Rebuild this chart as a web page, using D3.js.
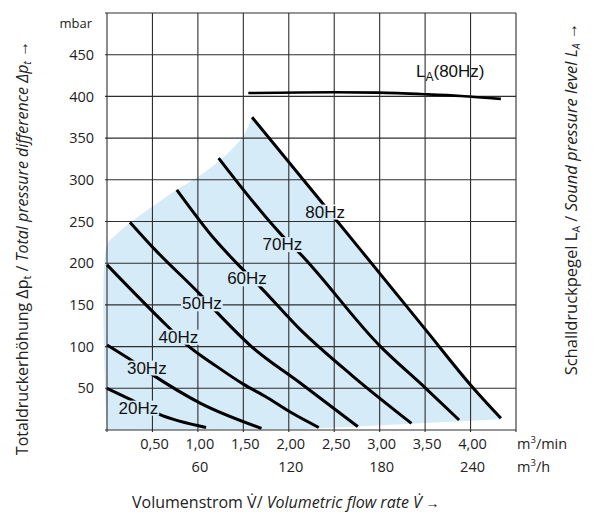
<!DOCTYPE html>
<html><head><meta charset="utf-8">
<script src="https://cdn.jsdelivr.net/npm/d3@7"></script>
<style>
html,body{margin:0;padding:0;background:#fff;}
svg{display:block;}
</style></head>
<body>
<svg id="c" width="600" height="524"></svg>
<script>
// ---- data ----
const xTicks = [0.5, 1, 1.5, 2, 2.5, 3, 3.5, 4];
const xTickLabels = ["0,50", "1,00", "1,50", "2,00", "2,50", "3,00", "3,50", "4,00"];
const hTicks = [60, 120, 180, 240];           // m³/h
const yTicks = [50, 100, 150, 200, 250, 300, 350, 400, 450];
const xGrid = [0, 0.5, 1, 1.5, 2, 2.5, 3, 3.5, 4, 4.5];
const yGrid = [0, 50, 100, 150, 200, 250, 300, 350, 400, 450, 500];

const curve20Hz = [[0, 50], [0.25, 37], [0.57, 19], [1.09, 3]];
const curve30Hz = [[0, 102], [0.235, 86], [0.49, 67], [1.03, 32], [1.7, 2]];
const curve40Hz = [[0, 198], [0.66, 125], [0.86, 104], [1.21, 76], [1.5, 55], [1.76, 39], [2.04, 20], [2.33, 3]];
const curve50Hz = [[0.254, 249], [0.53, 216], [1.03, 162], [1.21, 141], [1.58, 101], [2.13, 56], [2.76, 4]];
const curve60Hz = [[0.768, 288], [1.19, 228], [1.49, 193], [1.69, 171], [2.13, 120], [2.7, 65], [3.35, 8]];
const curve70Hz = [[1.228, 326], [1.92, 234], [2.12, 212], [3.01, 100], [3.507, 50], [3.874, 12]];
const curve80Hz = [[1.596, 375], [2.385, 270], [2.79, 216], [3.507, 120], [4.0, 54], [4.334, 14]];
const curveLA80 = [[1.555, 404], [2.49, 405], [2.975, 404.5], [3.507, 402.5], [3.893, 400.5], [4.334, 397]];

const curveNames = ["20Hz", "30Hz", "40Hz", "50Hz", "60Hz", "70Hz", "80Hz"];
const curveSeries = [curve20Hz, curve30Hz, curve40Hz, curve50Hz, curve60Hz, curve70Hz, curve80Hz];
const labelPos = [[0.345, 27], [0.438, 75], [0.786, 112], [1.044, 152], [1.54, 182], [1.93, 223], [2.40, 262]];

// operating region (blue)
const regionUpper = [[0, 0], [0, 222], [0.088, 233], [0.272, 250], [0.53, 270], [0.768, 288], [1.007, 304],
                     [1.228, 322], [1.375, 337], [1.503, 353], [1.596, 375]];
const regionLower = [[1.596, 375], [4.334, 13], [2.13, 1], [0, 0]];

// ---- drawing ----
const svg = d3.select("#c");
const x = d3.scaleLinear([0, 4.5], [107, 516]);
const y = d3.scaleLinear([0, 500], [430, 13]);

const defs = svg.append("defs");
const mask = defs.append("mask").attr("id", "lblmask")
  .attr("maskUnits", "userSpaceOnUse").attr("x", 0).attr("y", 0).attr("width", 600).attr("height", 524);
mask.append("rect").attr("x", 0).attr("y", 0).attr("width", 600).attr("height", 524).attr("fill", "#fff");

// region
const lineCR = d3.line().x(d => x(d[0])).y(d => y(d[1])).curve(d3.curveCatmullRom.alpha(0.5));
const lineLin = d3.line().x(d => x(d[0])).y(d => y(d[1]));
const upperPath = lineCR(regionUpper);
const lowerPath = lineLin(regionLower).replace(/^M/, "L");
svg.append("path").attr("d", upperPath + lowerPath + "Z").attr("fill", "#d5ebf8");

// grid
const grid = svg.append("g").attr("mask", "url(#lblmask)").attr("stroke", "#2e2e2e").attr("stroke-width", 1.1);
grid.selectAll(".vg").data(xGrid).join("line")
  .attr("x1", d => x(d)).attr("x2", d => x(d)).attr("y1", y(500)).attr("y2", y(0) + 2);
grid.selectAll(".hg").data(yGrid).join("line")
  .attr("y1", d => y(d)).attr("y2", d => y(d)).attr("x1", x(0) - 2).attr("x2", x(4.5));

// curves
const lineC = d3.line().x(d => x(d[0])).y(d => y(d[1])).curve(d3.curveMonotoneX);
const curveG = svg.append("g").attr("mask", "url(#lblmask)");
curveG.selectAll("path").data(curveSeries).join("path")
  .attr("d", d => lineC(d)).attr("fill", "none").attr("stroke", "#000").attr("stroke-width", 3)
  .attr("stroke-linecap", "butt");
svg.append("path").attr("d", lineC(curveLA80)).attr("fill", "none").attr("stroke", "#000")
  .attr("stroke-width", 2.6);

// curve labels
const lblG = svg.append("g").attr("font-family", "'Liberation Sans', Arial, sans-serif").attr("font-size", 17);
curveNames.forEach((n, i) => {
  const t = lblG.append("text").attr("x", x(labelPos[i][0])).attr("y", y(labelPos[i][1]))
    .attr("text-anchor", "middle").attr("dy", "0.36em").attr("fill", "#111").text(n);
  const b = t.node().getBBox();
  mask.append("rect").attr("x", b.x - 1).attr("y", b.y + 2).attr("width", b.width + 2).attr("height", b.height - 4)
    .attr("fill", "#000");
});

// LA label
const la = svg.append("text").attr("x", 416).attr("y", 77)
  .attr("font-family", "'Liberation Sans', Arial, sans-serif").attr("font-size", 17).attr("fill", "#111");
la.append("tspan").text("L");
la.append("tspan").attr("font-size", 12).attr("dy", 4).text("A");
la.append("tspan").attr("dy", -4).text("(80Hz)");

// axes text
const font = "'Open Sans', 'Noto Sans', sans-serif";
const yAxis = d3.axisLeft(y).tickValues(yTicks).tickSize(0).tickPadding(13);
const yg = svg.append("g").attr("transform", `translate(${x(0)},0)`).call(yAxis);
yg.select(".domain").remove();
yg.selectAll("text").attr("font-family", font).attr("font-size", 14.5).attr("fill", "#222");
svg.append("text").attr("x", 92).attr("y", 28).attr("text-anchor", "end")
  .attr("font-family", font).attr("font-size", 13).attr("fill", "#222").text("mbar");

const xAxis = d3.axisBottom(x).tickValues(xTicks).tickSize(0).tickPadding(9)
  .tickFormat((d, i) => xTickLabels[i]);
const xg = svg.append("g").attr("transform", `translate(1.5,${y(0)})`).call(xAxis);
xg.select(".domain").remove();
xg.selectAll("text").attr("font-family", font).attr("font-size", 14.5).attr("fill", "#222");

const hAxis = d3.axisBottom(x).tickValues(hTicks.map(v => v / 60)).tickSize(0).tickPadding(32)
  .tickFormat((d, i) => String(hTicks[i]));
const hg = svg.append("g").attr("transform", `translate(1.5,${y(0)})`).call(hAxis);
hg.select(".domain").remove();
hg.selectAll("text").attr("font-family", font).attr("font-size", 14.5).attr("fill", "#222");

function unitText(yy, main, sup, rest) {
  const t = svg.append("text").attr("x", 517).attr("y", yy).attr("font-family", font)
    .attr("font-size", 14.5).attr("fill", "#222");
  t.append("tspan").text(main);
  t.append("tspan").attr("font-size", 9.5).attr("dy", -6).text(sup);
  t.append("tspan").attr("dy", 6).text(rest);
}
unitText(449, "m", "3", "/min");
unitText(472, "m", "3", "/h");

// axis titles
const yt = svg.append("text").attr("transform", "translate(28,248) rotate(-90)").attr("text-anchor", "middle")
  .attr("font-family", font).attr("font-size", 16).attr("fill", "#222");
yt.append("tspan").text("Totaldruckerhöhung Δp");
yt.append("tspan").attr("font-size", 11).attr("dy", 3).text("t");
yt.append("tspan").attr("dy", -3).text(" / ");
yt.append("tspan").attr("font-style", "italic").text("Total pressure difference Δp");
yt.append("tspan").attr("font-style", "italic").attr("font-size", 11).attr("dy", 3).text("t");
yt.append("tspan").attr("dy", -3).text("  →");

const rt = svg.append("text").attr("transform", "translate(577,199) rotate(-90)").attr("text-anchor", "middle")
  .attr("font-family", font).attr("font-size", 16.5).attr("fill", "#222");
rt.append("tspan").text("Schalldruckpegel L");
rt.append("tspan").attr("font-size", 10.5).attr("dy", 3).text("A");
rt.append("tspan").attr("dy", -3).text(" / ");
rt.append("tspan").attr("font-style", "italic").text("Sound pressure level L");
rt.append("tspan").attr("font-style", "italic").attr("font-size", 10.5).attr("dy", 3).text("A");
rt.append("tspan").attr("dy", -3).text("  →");

const bt = svg.append("text").attr("x", 132).attr("y", 508)
  .attr("font-family", font).attr("font-size", 16).attr("fill", "#222");
bt.append("tspan").text("Volumenstrom V\u0307/ ");
bt.append("tspan").attr("font-style", "italic").text("Volumetric flow rate V\u0307");
bt.append("tspan").attr("font-size", 14).text(" →");
</script>
</body></html>
